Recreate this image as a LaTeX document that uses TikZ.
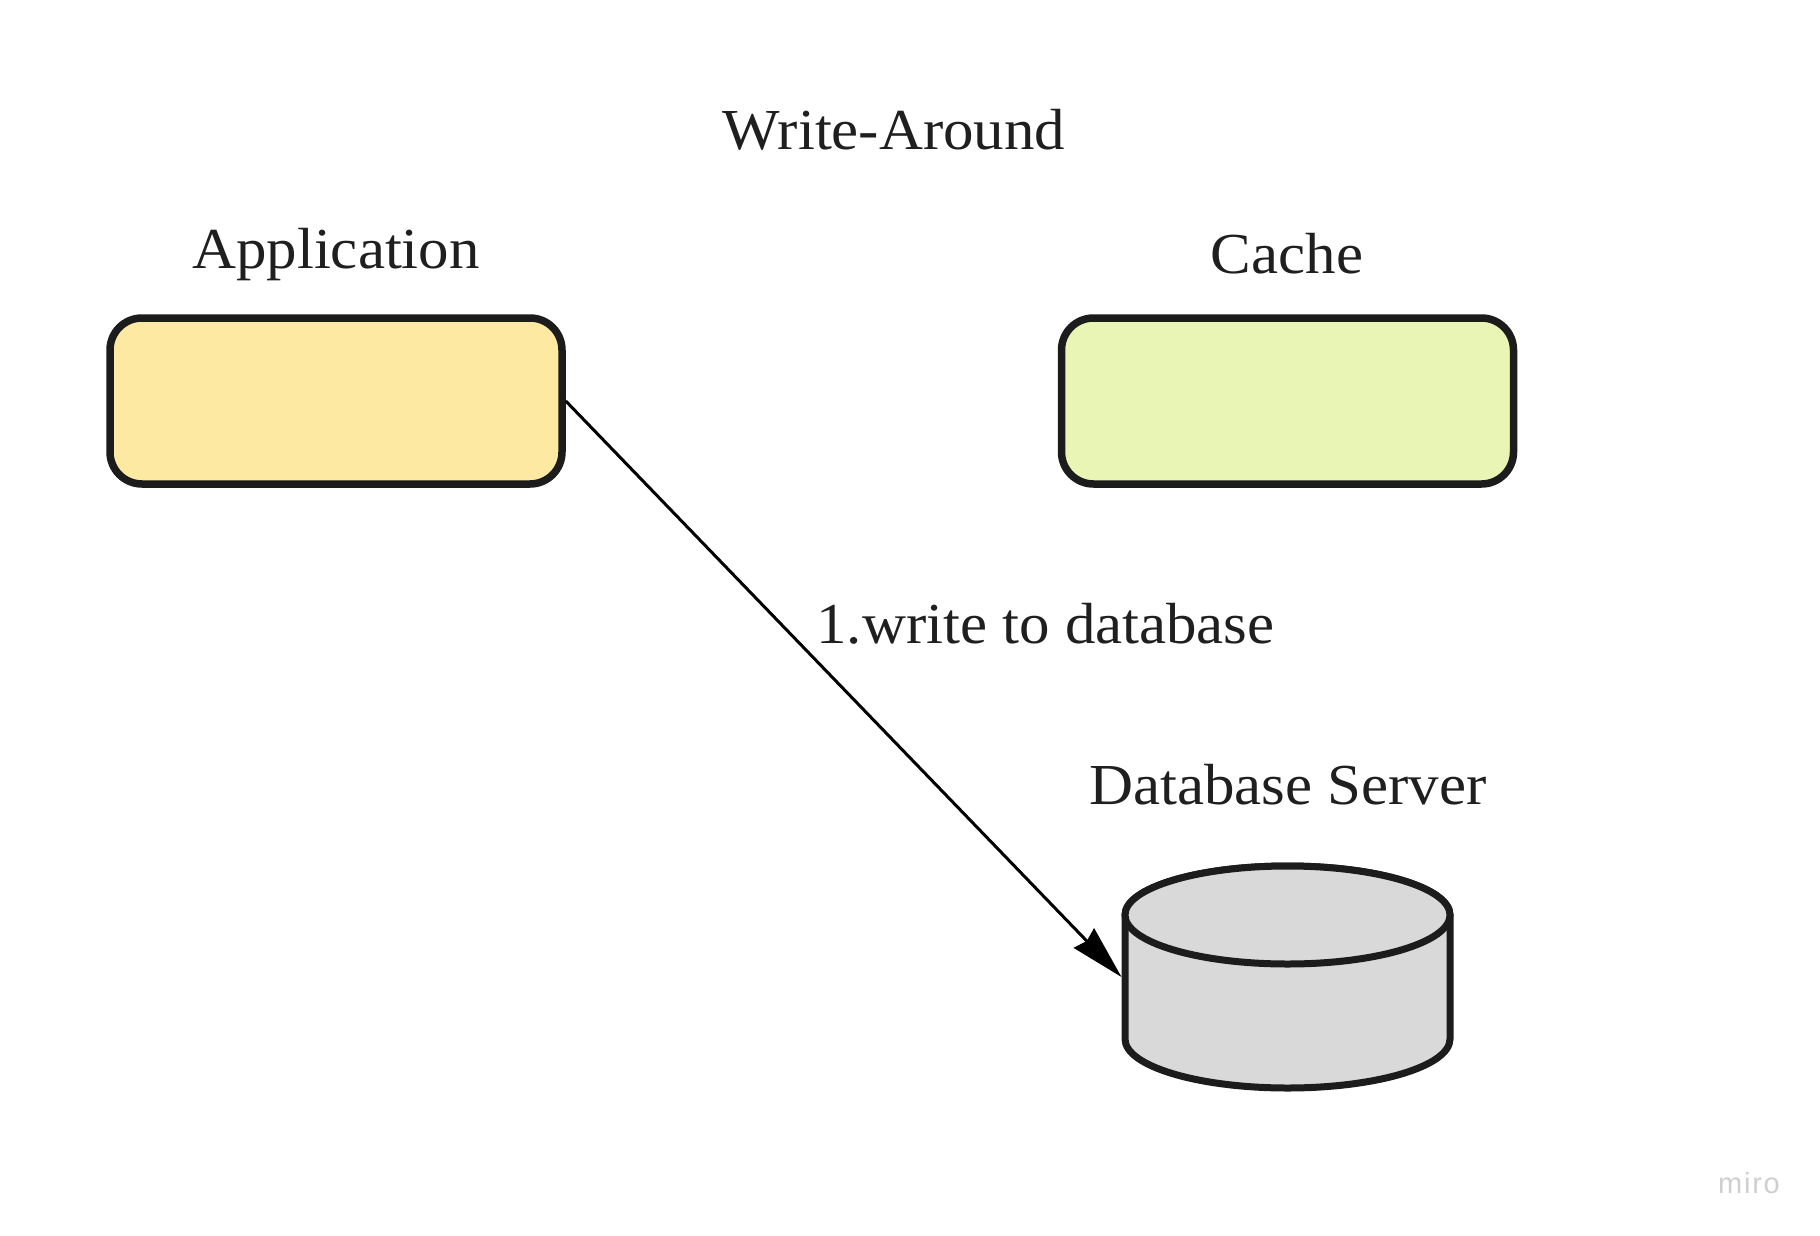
\documentclass[tikz,border=0pt]{standalone}
\usepackage{fontspec}
\setmainfont{Liberation Serif}[FakeStretch=1.05]
\newfontfamily\wmfont{Liberation Sans}[LetterSpace=6]
\usetikzlibrary{arrows.meta}
\definecolor{strokec}{HTML}{1C1C1C}
\definecolor{textc}{HTML}{1F1F1F}
\definecolor{appfill}{HTML}{FDE9A2}
\definecolor{cachefill}{HTML}{E8F5B5}
\definecolor{dbfill}{HTML}{D9D9D9}
\definecolor{wmc}{HTML}{CFCFCF}
\tikzset{
  boxnode/.style={draw=strokec, line width=3.75pt, rounded corners=16pt,
    minimum width=226pt, minimum height=83pt, inner sep=0pt},
  lbl/.style={anchor=base, text=textc, inner sep=0pt,
    font=\fontsize{29}{34}\selectfont},
  flow/.style={line width=1.5pt, draw=black,
    -{Stealth[length=27pt, width=14pt, inset=2pt]}},
}
\begin{document}
\begin{tikzpicture}[x=0.5pt, y=-0.5pt]
\useasboundingbox[fill=white] (0,0) rectangle (1820,1236);

% title and labels
\node[lbl] (title) at (894,149) {Write-Around};
\node[lbl] (applbl) at (336,268) {Application};
\node[lbl] (cachelbl) at (1287,273) {Cache};
\node[lbl] (dblbl) at (1288,804) {Database Server};
\node[lbl, anchor=base west] (flowlbl) at (816,643) {1.write to database};

% boxes
\node[boxnode, fill=appfill] (app) at (336,401) {};
\node[boxnode, fill=cachefill] (cache) at (1287.5,401) {};

% database cylinder
\begin{scope}[draw=strokec, line width=3.5pt]
\filldraw[fill=dbfill] (1125,915) -- (1125,1039)
  arc[start angle=180, end angle=360, x radius=81.25pt, y radius=24.5pt]
  -- (1450,915)
  arc[start angle=0, end angle=180, x radius=81.25pt, y radius=24.5pt] -- cycle;
\filldraw[fill=dbfill] (1287.5,915) ellipse[x radius=81.25pt, y radius=24.5pt];
\end{scope}
\node[minimum width=162.5pt, minimum height=111pt, inner sep=0pt, outer sep=1.75pt] (db) at (1287.5,977) {};

% connector
\draw[flow] (app.east) -- (db.west);

% watermark
\node[anchor=base, text=wmc, inner sep=0pt, font=\wmfont\fontsize{14.5}{17}\selectfont] (wm) at (1749,1193) {miro};
\end{tikzpicture}
\end{document}
